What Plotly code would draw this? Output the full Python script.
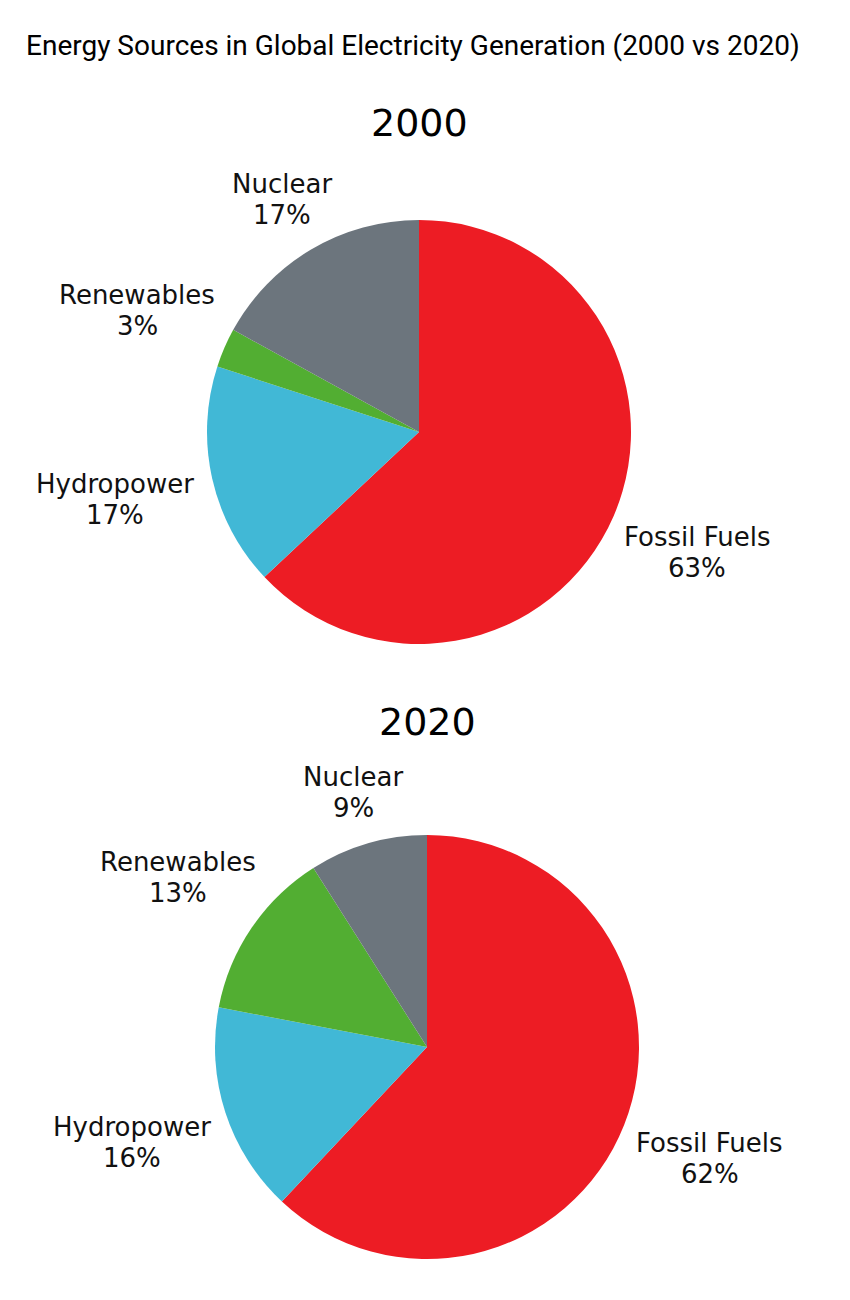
import math
import plotly.graph_objects as go

W, H = 850, 1300
OFF = 8  # page body margin offset

categories = ["Fossil Fuels", "Hydropower", "Renewables", "Nuclear"]
values_2000 = [63, 17, 3, 17]
values_2020 = [62, 16, 13, 9]
years = ["2000", "2020"]
colors = ["#ED1C24", "#41B8D6", "#52AE32", "#6C757D"]

title_text = "Energy Sources in Global Electricity Generation (2000 vs 2020)"

FONT = "DejaVu Sans"
LABEL_SIZE = 26
LINE_GAP = 31      # px between label line and percent line
LABEL_PAD = 22     # px gap between pie edge and label block
HALF_H = 29        # half height of two-line label block

# approximate DejaVu Sans advance widths (em)
ADV = {"F": .575, "o": .612, "s": .521, "i": .278, "l": .278, " ": .318,
       "u": .634, "e": .615, "H": .752, "y": .592, "d": .635, "r": .411,
       "p": .635, "w": .818, "R": .695, "n": .634, "a": .613, "b": .635,
       "N": .748, "c": .550, "%": .950}

def text_w(s, size):
    return sum(ADV.get(ch, .636) for ch in s) * size

def to_paper(xpx, ypx):
    return (xpx - OFF) / W, 1 - (ypx - OFF) / H

pies = [
    dict(vals=values_2000, cx=419, cy=432, r=212, title_y=123),
    dict(vals=values_2020, cx=427, cy=1047, r=212, title_y=722),
]

fig = go.Figure()
for yr, p in zip(years, pies):
    cx, cy, r = p["cx"], p["cy"], p["r"]
    x0, y1 = to_paper(cx - r, cy - r)
    x1, y0 = to_paper(cx + r, cy + r)
    fig.add_trace(go.Pie(
        labels=categories,
        values=p["vals"],
        sort=False,
        direction="clockwise",
        rotation=0,
        marker=dict(colors=colors, line=dict(width=0)),
        textinfo="none",
        domain=dict(x=[x0, x1], y=[y0, y1]),
        showlegend=False,
        automargin=False,
        name=yr,
        hovertemplate="%{label}: %{percent}<extra></extra>",
    ))
    tx, ty = to_paper(cx, p["title_y"])
    fig.add_annotation(
        text=yr, x=tx, y=ty, xref="paper", yref="paper",
        xanchor="center", yanchor="middle", showarrow=False,
        font=dict(family=FONT, size=38, color="#000000"),
    )

    # outside labels positioned from the slice mid-angles
    total = sum(p["vals"])
    cum = 0.0
    for lab, v in zip(categories, p["vals"]):
        mid = (cum + v / 2) / total
        cum += v
        th = 2 * math.pi * mid
        sx, cy_dir = math.sin(th), math.cos(th)
        pct = f"{round(100 * v / total)}%"
        hw = max(text_w(lab, LABEL_SIZE), text_w(pct, LABEL_SIZE)) / 2
        ext = math.hypot(hw * sx, HALF_H * cy_dir)
        dist = r + LABEL_PAD + ext
        lx = cx + dist * sx
        ly = cy - dist * cy_dir
        ax, ay = to_paper(lx, ly - LINE_GAP / 2)
        fig.add_annotation(
            text=lab, x=ax, y=ay, xref="paper", yref="paper",
            xanchor="center", yanchor="middle", showarrow=False,
            font=dict(family=FONT, size=LABEL_SIZE, color="#111111"),
        )
        ax, ay = to_paper(lx, ly + LINE_GAP / 2)
        fig.add_annotation(
            text=pct, x=ax, y=ay, xref="paper", yref="paper",
            xanchor="center", yanchor="middle", showarrow=False,
            font=dict(family=FONT, size=LABEL_SIZE, color="#111111"),
        )

fig.update_layout(
    width=W, height=H,
    margin=dict(l=0, r=0, t=0, b=0),
    paper_bgcolor="white", plot_bgcolor="white",
    font=dict(family=FONT, color="#000000"),
    title=dict(
        text=title_text, x=(26 - OFF) / W, xref="container", xanchor="left",
        y=1 - (45 - OFF) / H, yref="container", yanchor="middle",
        font=dict(family="Roboto", size=28, color="#000000"),
    ),
)

fig.write_html("out.html")
